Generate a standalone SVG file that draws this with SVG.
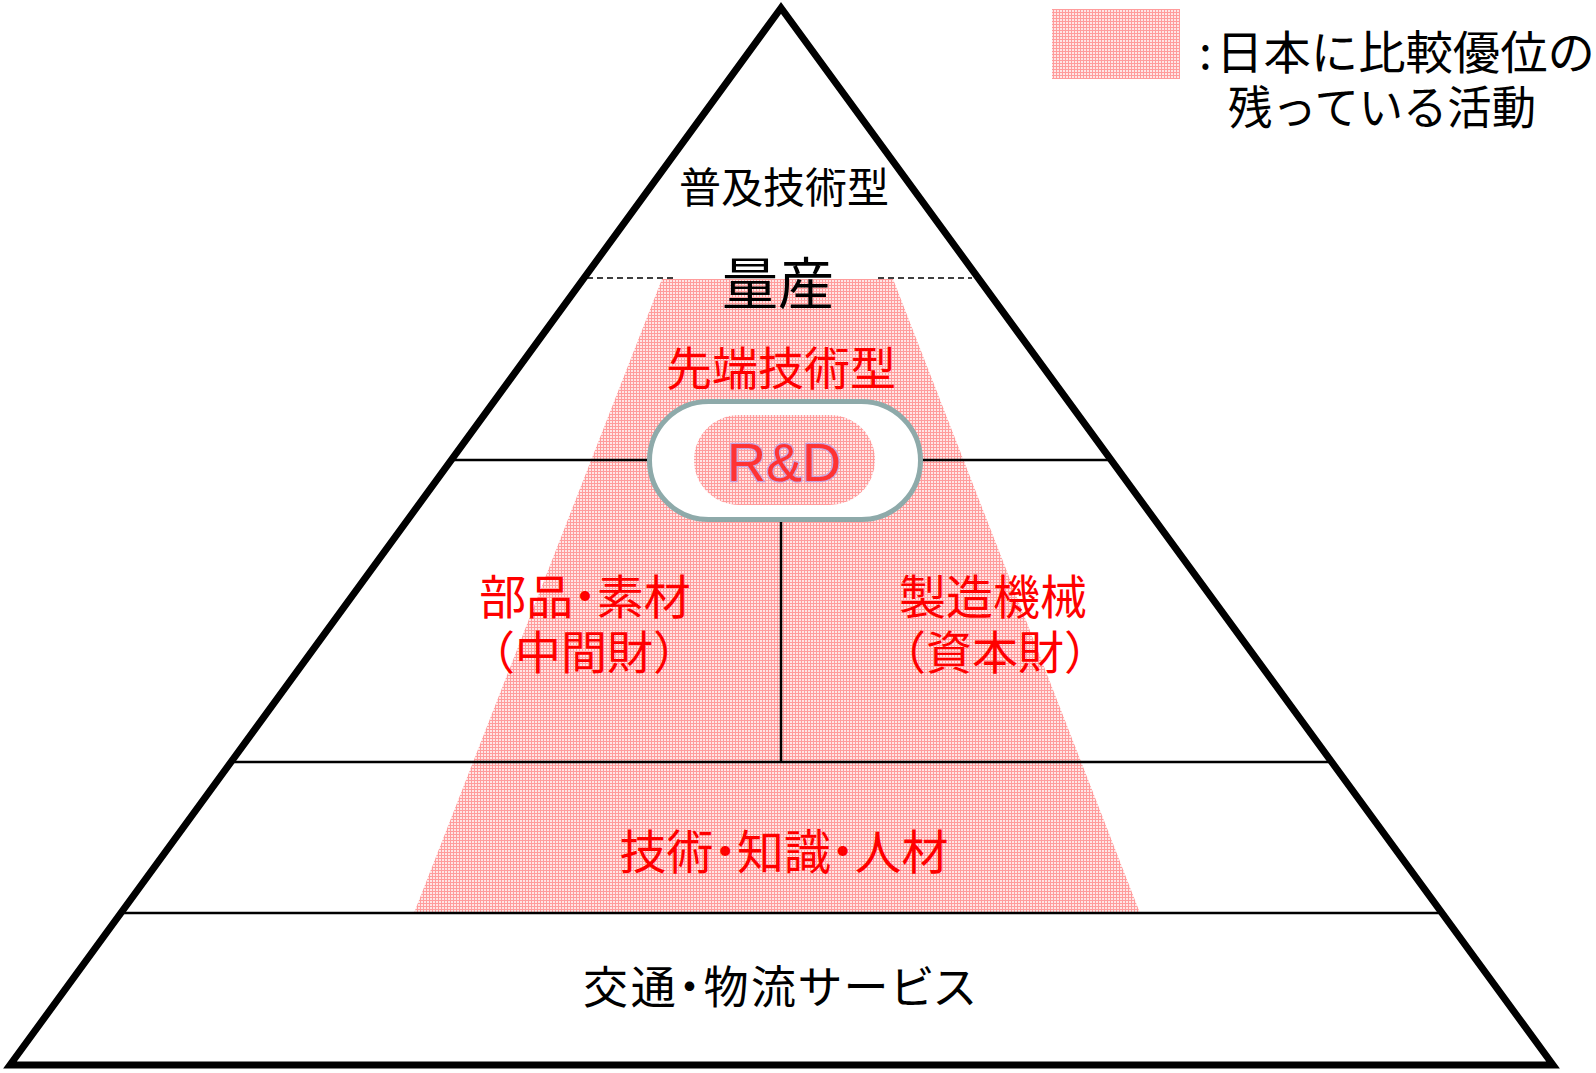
<svg xmlns="http://www.w3.org/2000/svg" width="1596" height="1073" viewBox="0 0 1596 1073">
<defs>
<pattern id="pk" width="3" height="3" patternUnits="userSpaceOnUse">
<rect width="3" height="3" fill="#ffe6e6"/>
<rect width="3" height="1" fill="#ff9c9c"/>
<rect width="1" height="3" fill="#ff9c9c"/>
</pattern>
<style>
.jp{font-family:"Noto Sans CJK JP","Noto Sans CJK SC",sans-serif;text-anchor:middle;dominant-baseline:central}
.pa{font-feature-settings:"palt" 1}
.blk{fill:#000}
.red{fill:#ff0000}
.sep{stroke:#000;stroke-width:2.5;fill:none}
.dash{stroke:#000;stroke-width:1.5;stroke-dasharray:6 4;fill:none}
</style>
</defs>
<rect width="1596" height="1073" fill="#ffffff"/>

<g id="advantage-area">
<polygon points="662,279 893,279 1140,913 414,913" fill="url(#pk)"/>
</g>

<g id="connectors">
<line class="sep" x1="451" y1="460" x2="1114" y2="460"/>
<line class="sep" x1="231" y1="762" x2="1332" y2="762"/>
<line class="sep" x1="121" y1="913" x2="1442" y2="913"/>
<line class="sep" x1="781" y1="515" x2="781" y2="762"/>
<line class="dash" x1="587" y1="278" x2="675" y2="278"/>
<line class="dash" x1="878" y1="278" x2="972" y2="278"/>
</g>

<g id="pyramid">
<polygon points="781,8 10,1065 1553,1065" fill="none" stroke="#000" stroke-width="7" stroke-linejoin="miter"/>
</g>

<g id="top-tier">
<text class="jp blk" x="784" y="184" font-size="42">普及技術型</text>
<text class="jp blk" x="778" y="279" font-size="56">量産</text>
<text class="jp red" x="781" y="365" font-size="46">先端技術型</text>
</g>

<g id="rd">
<rect x="649.5" y="401.5" width="271" height="118" rx="59" ry="59" fill="#ffffff" stroke="#8eaaaa" stroke-width="5"/>
<rect x="694" y="415" width="181" height="90" rx="45" ry="45" fill="url(#pk)"/>
<text x="784" y="481" font-family="'Liberation Sans',Arial,sans-serif" font-size="54" text-anchor="middle" fill="#ff3333" stroke="#c9a2dc" stroke-width="2.5" paint-order="stroke">R&amp;D</text>
</g>

<g id="parts">
<text class="jp pa red" x="585" y="593" font-size="47">部品・素材</text>
<text class="jp red" x="584" y="649" font-size="46">（中間財）</text>
</g>

<g id="machinery">
<text class="jp red" x="993" y="593" font-size="47">製造機械</text>
<text class="jp red" x="995" y="649" font-size="46">（資本財）</text>
</g>

<g id="foundation">
<text class="jp pa red" x="784" y="848" font-size="47">技術・知識・人材</text>
</g>

<g id="logistics">
<text class="jp pa blk" x="779" y="984" font-size="45" textLength="392" lengthAdjust="spacing">交通・物流サービス</text>
</g>

<g id="legend">
<rect x="1052" y="9" width="128" height="70" fill="url(#pk)"/>
<text font-family="'Noto Sans CJK JP','Noto Sans CJK SC',sans-serif" font-size="46" fill="#000" dominant-baseline="central">
<tspan x="1199" y="49">:</tspan><tspan x="1216" y="49" textLength="379" lengthAdjust="spacingAndGlyphs">日本に比較優位の</tspan>
</text>
<text font-family="'Noto Sans CJK JP','Noto Sans CJK SC',sans-serif" font-size="46" fill="#000" dominant-baseline="central" x="1228" y="104" textLength="308" lengthAdjust="spacingAndGlyphs">残っている活動</text>
</g>
</svg>
